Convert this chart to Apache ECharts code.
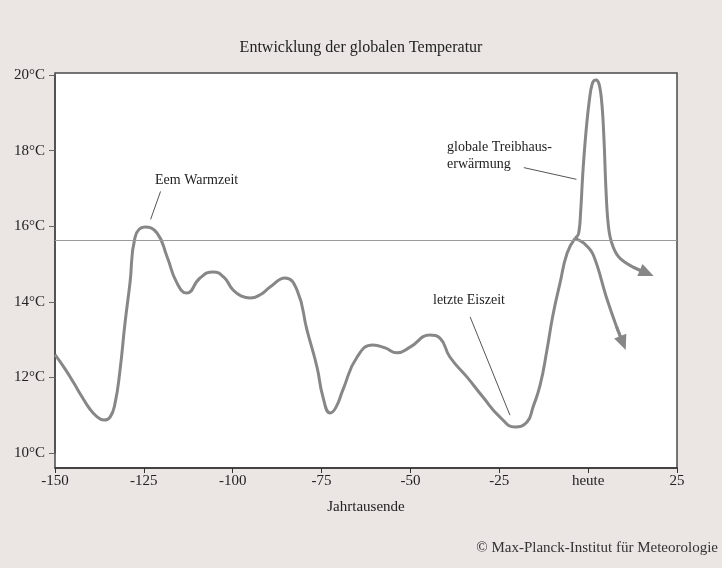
<!DOCTYPE html>
<html>
<head>
<meta charset="utf-8">
<script src="https://cdn.jsdelivr.net/npm/echarts@6/dist/echarts.min.js"></script>
<style>
  html, body { margin: 0; padding: 0; background: #ebe5e3; }
  #main { width: 722px; height: 568px; }
</style>
</head>
<body>
<div id="main"></div>
<script>
// Jahrtausende (x) und Temperatur in °C (y)
var pastYears = [-150, -147, -144.7, -142.5, -140.4, -138.3, -136.2, -134.5, -133.1, -131.7, -130.3, -128.9, -127.5,
    -124.7, -121.3, -118.5, -115.7, -112.9, -109.2, -105.5, -102.5, -99.9, -97.5, -95.1, -92, -89.5, -85.3,
    -81.9, -79.1, -76.3, -74.6, -72.6, -71, -69, -65, -60.5, -57.1, -53.8, -50.1, -44.5, -41.7, -38.9, -34,
    -29.6, -24.8, -20.6, -17.2, -15.5, -13.5, -11.6, -9.9, -7.9, -5.9, -3.7];
var pastTemps = [12.6, 12.2, 11.85, 11.5, 11.19, 10.97, 10.87, 10.95, 11.32, 12.2, 13.44, 14.5, 15.7,
    15.98, 15.82, 15.2, 14.5, 14.23, 14.63, 14.79, 14.65, 14.31, 14.15, 14.1, 14.2, 14.39, 14.63,
    14.31, 13.25, 12.28, 11.48, 11.06, 11.2, 11.67, 12.54, 12.86, 12.78, 12.65, 12.8, 13.12, 13.04, 12.54, 12.0,
    11.48, 10.95, 10.69, 10.82, 11.22, 11.8, 12.72, 13.65, 14.5, 15.29, 15.68];
// natürliche Entwicklung (untere Kurve)
var naturalYears = [-3.7, -1.2, 1.4, 5.2, 8.0, 9.8];
var naturalTemps = [15.68, 15.55, 15.25, 14.1, 13.34, 12.91];
// globale Treibhauserwärmung (obere Kurve)
var warmYears = [-3.7, -2.7, -2.1, -1.5, -0.6, 0.3, 1.2, 2.2, 3.1, 3.9, 4.5, 5.0, 5.6, 6.5, 8.5, 12.6, 16.5];
var warmTemps = [15.68, 15.8, 16.4, 17.4, 18.5, 19.3, 19.78, 19.87, 19.75, 19.2, 18.2, 17.0, 16.1, 15.6, 15.2, 14.92, 14.76];
var refTemp = 15.63;
var yTicks = [10, 12, 14, 16, 18, 20];

// Hinweislinien zu den Beschriftungen
var leaders = [
    [[-120.3, 16.92], [-123.1, 16.18]],
    [[-18.1, 17.55], [-3.3, 17.24]],
    [[-33.2, 13.6], [-22.0, 11.0]]
];

function pairs(xs, ys) {
    return xs.map(function(x, i) { return [x, ys[i]]; });
}

var myChart = echarts.init(document.getElementById('main'));
var FONT = '"Liberation Serif", "DejaVu Serif", serif';
var curveColor = '#878787';

function arrowLine(xs, ys) {
    var n = xs.length;
    return {
        silent: true,
        symbol: ['none', 'triangle'],
        symbolSize: [13, 15],
        label: { show: false },
        lineStyle: { color: curveColor, width: 3, type: 'solid' },
        itemStyle: { color: curveColor },
        data: [[{ coord: [xs[n - 2], ys[n - 2]] }, { coord: [xs[n - 1], ys[n - 1]] }]]
    };
}

var option = {
    backgroundColor: '#ebe5e3',
    animation: false,
    title: {
        text: 'Entwicklung der globalen Temperatur',
        left: 'center',
        top: 35,
        textStyle: { fontFamily: FONT, fontWeight: 'normal', fontSize: 16, color: '#222' }
    },
    grid: [
        // Rahmen
        { left: 55, right: 45, top: 73, bottom: 100, show: true, backgroundColor: '#fff', borderColor: '#4a4a4a', borderWidth: 1.5 },
        // Daten
        { left: 55, right: 45, top: 75, bottom: 115 }
    ],
    xAxis: [{
        gridIndex: 0, type: 'value', min: -150, max: 25, interval: 25,
        axisLine: { lineStyle: { color: '#333', width: 1.5 } },
        axisTick: { inside: false, length: 5, lineStyle: { color: '#333' } },
        splitLine: { show: false },
        axisLabel: {
            margin: 6, fontFamily: FONT, fontSize: 15, color: '#222',
            formatter: function(v) { return v === 0 ? 'heute' : String(v); }
        },
        name: 'Jahrtausende', nameLocation: 'middle', nameGap: 32,
        nameTextStyle: { fontFamily: FONT, fontSize: 15, color: '#222' }
    }, {
        gridIndex: 1, type: 'value', min: -150, max: 25, show: false
    }],
    yAxis: [{
        gridIndex: 0, type: 'value', min: 0, max: 1, show: false
    }, {
        gridIndex: 1, type: 'value', min: 10, max: 20, interval: 2, position: 'left',
        axisLine: { show: true, onZero: false, lineStyle: { color: '#4a4a4a', width: 1.5 } },
        axisTick: { length: 6, lineStyle: { color: '#666' } },
        splitLine: { show: false },
        axisLabel: {
            margin: 10, fontFamily: FONT, fontSize: 15, color: '#222',
            formatter: function(v) { return yTicks.indexOf(v) >= 0 ? v + '°C' : ''; }
        }
    }],
    series: [{
        name: 'past',
        type: 'line', xAxisIndex: 1, yAxisIndex: 1,
        data: pairs(pastYears, pastTemps),
        smooth: 0.5, showSymbol: false,
        lineStyle: { color: curveColor, width: 3 },
        markLine: {
            silent: true, symbol: 'none',
            label: { show: false },
            lineStyle: { color: '#9a9a9a', width: 1.2, type: 'solid' },
            data: [{ yAxis: refTemp }]
        }
    }, {
        name: 'natural',
        type: 'line', xAxisIndex: 1, yAxisIndex: 1,
        data: pairs(naturalYears, naturalTemps),
        smooth: 0.4, showSymbol: false,
        lineStyle: { color: curveColor, width: 3 },
        markLine: arrowLine(naturalYears, naturalTemps)
    }, {
        name: 'warm',
        type: 'line', xAxisIndex: 1, yAxisIndex: 1,
        data: pairs(warmYears, warmTemps),
        smooth: 0.4, showSymbol: false,
        lineStyle: { color: curveColor, width: 3 },
        markLine: arrowLine(warmYears, warmTemps)
    }, {
        name: 'leaders',
        type: 'line', xAxisIndex: 1, yAxisIndex: 1,
        data: [],
        markLine: {
            silent: true, symbol: 'none',
            label: { show: false },
            lineStyle: { color: '#555', width: 1, type: 'solid' },
            data: leaders.map(function(l) { return [{ coord: l[0] }, { coord: l[1] }]; })
        }
    }],
    graphic: [
        { type: 'text', left: 155, top: 173, style: { text: 'Eem Warmzeit', font: '14px ' + FONT, fill: '#222' } },
        { type: 'text', left: 447, top: 139, style: { text: 'globale Treibhaus-\nerwärmung', font: '14px ' + FONT, lineHeight: 17, fill: '#222' } },
        { type: 'text', left: 433, top: 293, style: { text: 'letzte Eiszeit', font: '14px ' + FONT, fill: '#222' } },
        { type: 'text', right: 4, top: 541, style: { text: '© Max-Planck-Institut für Meteorologie', font: '15px ' + FONT, fill: '#333' } }
    ]
};

myChart.setOption(option);
</script>
</body>
</html>
